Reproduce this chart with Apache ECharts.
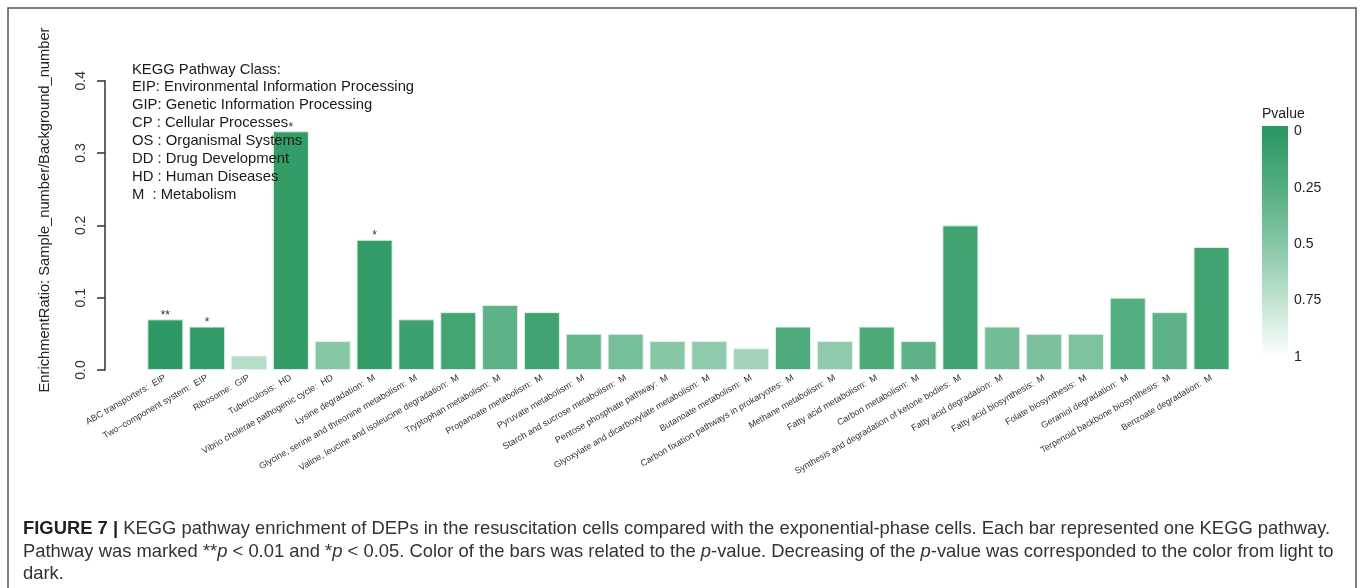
<!DOCTYPE html>
<html>
<head>
<meta charset="utf-8">
<script src="https://cdn.jsdelivr.net/npm/echarts@6/dist/echarts.min.js"></script>
<style>
  html, body { margin: 0; padding: 0; background: #ffffff; }
  #chart { width: 1362px; height: 588px; }
</style>
</head>
<body>
<div id="chart"></div>
<script>
// KEGG pathways (x categories) and their class abbreviations
const pathways = [
  'ABC transporters', 'Two\u2212component system', 'Ribosome', 'Tuberculosis',
  'Vibrio cholerae pathogenic cycle', 'Lysine degradation',
  'Glycine, serine and threonine metabolism', 'Valine, leucine and isoleucine degradation',
  'Tryptophan metabolism', 'Propanoate metabolism', 'Pyruvate metabolism',
  'Starch and sucrose metabolism', 'Pentose phosphate pathway',
  'Glyoxylate and dicarboxylate metabolism', 'Butanoate metabolism',
  'Carbon fixation pathways in prokaryotes', 'Methane metabolism', 'Fatty acid metabolism',
  'Carbon metabolism', 'Synthesis and degradation of ketone bodies', 'Fatty acid degradation',
  'Fatty acid biosynthesis', 'Folate biosynthesis', 'Geraniol degradation',
  'Terpenoid backbone biosynthesis', 'Benzoate degradation'
];
const pathwayClasses = [
  'EIP', 'EIP', 'GIP', 'HD', 'HD', 'M', 'M', 'M', 'M', 'M', 'M', 'M', 'M',
  'M', 'M', 'M', 'M', 'M', 'M', 'M', 'M', 'M', 'M', 'M', 'M', 'M'
];
// Enrichment ratio: Sample_number / Background_number
const enrichmentRatio = [
  0.07, 0.06, 0.02, 0.33, 0.04, 0.18, 0.07, 0.08, 0.09, 0.08, 0.05, 0.05, 0.04,
  0.04, 0.03, 0.06, 0.04, 0.06, 0.04, 0.20, 0.06, 0.05, 0.05, 0.10, 0.08, 0.17
];
// Enrichment p-values (drive bar colour)
const pValues = [
  0.008, 0.04, 0.70, 0.04, 0.50, 0.04, 0.10, 0.15, 0.30, 0.12, 0.33, 0.42, 0.50,
  0.53, 0.62, 0.22, 0.53, 0.20, 0.30, 0.12, 0.40, 0.44, 0.45, 0.25, 0.30, 0.12
];
// Significance marks: ** p < 0.01, * p < 0.05
const significance = [
  '**', '*', '', '*', '', '*', '', '', '', '', '', '', '',
  '', '', '', '', '', '', '', '', '', '', '', '', ''
];
const classLegend = [
  'KEGG Pathway Class:',
  'EIP: Environmental Information Processing',
  'GIP: Genetic Information Processing',
  'CP : Cellular Processes',
  'OS : Organismal Systems',
  'DD : Drug Development',
  'HD : Human Diseases',
  'M  : Metabolism'
];
const pTicks = [0, 0.25, 0.5, 0.75, 1];
const pColors = ['#2e9862', '#53ae7f', '#87c7a6', '#c1e2d0', '#ffffff'];

const FONT = '"Liberation Sans", Arial, Helvetica, sans-serif';
const chart = echarts.init(document.getElementById('chart'), null, { renderer: 'canvas' });

const rows = pathways.map((name, i) => [name + ':  ' + pathwayClasses[i], enrichmentRatio[i], pValues[i]]);

// colour-bar extent in p units (slightly beyond 0..1 like the key)
const keyMin = -0.025, keyMax = 1.006;
const keyStops = pTicks.map((p, i) => ({ offset: (p - keyMin) / (keyMax - keyMin), color: pColors[i] }));
keyStops.unshift({ offset: 0, color: pColors[0] });
keyStops.push({ offset: 1, color: pColors[pColors.length - 1] });

const legendGraphics = classLegend.map((line, i) => ({
  type: 'text', left: 132, top: 62 + i * 17.9, z: 100,
  style: { text: line, font: '14.8px ' + FONT, fill: '#1a1a1a' }
}));

function captionLine(rich, top) {
  return {
    type: 'text', left: 23, top: top,
    style: {
      text: rich, fill: '#333',
      font: '18.4px ' + FONT,
      rich: {
        b: { fontWeight: 'bold', fontSize: 18.4, fontFamily: FONT, fill: '#222' },
        i: { fontStyle: 'italic', fontSize: 18.4, fontFamily: FONT, fill: '#333' }
      }
    }
  };
}

const option = {
  animation: false,
  backgroundColor: '#ffffff',
  textStyle: { fontFamily: FONT },
  dataset: { source: rows },
  grid: [
    { left: 144.4, top: 80.7, width: 1088, height: 289.3, containLabel: false },
    { left: 1262, top: 126, width: 26, height: 232, containLabel: false }
  ],
  xAxis: [
    {
      type: 'category', gridIndex: 0,
      axisLine: { show: false }, axisTick: { show: false },
      axisLabel: { interval: 0, rotate: 30, fontSize: 9, color: '#333', margin: 7, fontFamily: FONT }
    },
    { type: 'category', gridIndex: 1, data: ['key'], show: false }
  ],
  yAxis: [
    {
      type: 'value', gridIndex: 0, min: 0, max: 0.4, interval: 0.1, offset: 39.4,
      axisLine: { show: true, lineStyle: { color: '#333', width: 1.5 } },
      axisTick: { show: true, length: 8, lineStyle: { color: '#333', width: 1.5 } },
      splitLine: { show: false },
      axisLabel: { rotate: 90, fontSize: 14, color: '#333', margin: 17, formatter: v => v.toFixed(1) }
    },
    {
      type: 'value', gridIndex: 1, min: keyMin, max: keyMax, inverse: true, position: 'right',
      axisLine: { show: false }, axisTick: { show: false }, splitLine: { show: false },
      axisLabel: { customValues: pTicks, fontSize: 14, color: '#222', margin: 6, formatter: v => String(v) }
    }
  ],
  visualMap: {
    show: false, type: 'continuous', seriesIndex: 0, dimension: 2,
    min: 0, max: 1, inRange: { color: pColors }
  },
  series: [
    {
      type: 'bar', xAxisIndex: 0, yAxisIndex: 0,
      encode: { x: 0, y: 1 },
      barCategoryGap: '14%',
      itemStyle: { borderColor: 'rgba(225,243,233,0.9)', borderWidth: 1 },
      label: {
        show: true, position: 'top', distance: -2, fontSize: 12, color: '#333',
        formatter: p => significance[p.dataIndex]
      }
    },
    {
      type: 'custom', xAxisIndex: 1, yAxisIndex: 1,
      data: [[0, keyMin, keyMax]],
      encode: { x: 0, y: [1, 2] },
      renderItem: (params, api) => {
        const a = api.coord([0, api.value(1)]);
        const b = api.coord([0, api.value(2)]);
        const w = api.size([1, 0])[0];
        return {
          type: 'rect',
          shape: { x: a[0] - w / 2, y: Math.min(a[1], b[1]), width: w, height: Math.abs(b[1] - a[1]) },
          style: { fill: new echarts.graphic.LinearGradient(0, 0, 0, 1, keyStops) }
        };
      }
    }
  ],
  graphic: [
    { type: 'rect', shape: { x: 8, y: 8, width: 1348, height: 600 }, style: { fill: 'none', stroke: '#555', lineWidth: 1.5 } },
    {
      type: 'text', x: 45, y: 210, rotation: Math.PI / 2,
      style: { text: 'EnrichmentRatio: Sample_number/Background_number', font: '14.7px ' + FONT, fill: '#222', align: 'center', verticalAlign: 'middle' }
    },
    { type: 'text', left: 1262, top: 107, style: { text: 'Pvalue', font: '14px ' + FONT, fill: '#222' } },
    ...legendGraphics,
    captionLine('{b|FIGURE 7 |} KEGG pathway enrichment of DEPs in the resuscitation cells compared with the exponential-phase cells. Each bar represented one KEGG pathway.', 520),
    captionLine('Pathway was marked **{i|p} < 0.01 and *{i|p} < 0.05. Color of the bars was related to the {i|p}-value. Decreasing of the {i|p}-value was corresponded to the color from light to', 542.5),
    captionLine('dark.', 564.5)
  ]
};

chart.setOption(option);
</script>
</body>
</html>
